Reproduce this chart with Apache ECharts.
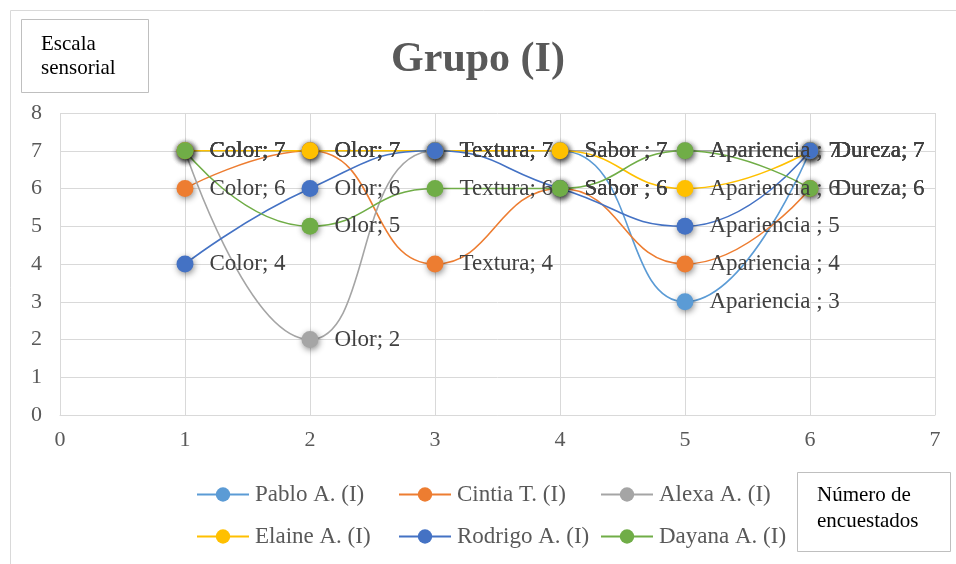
<!DOCTYPE html>
<html>
<head>
<meta charset="utf-8">
<script src="https://cdn.jsdelivr.net/npm/echarts@6/dist/echarts.min.js"></script>
<style>
  html, body { margin: 0; padding: 0; background: #fff; }
  #chart { width: 956px; height: 564px; }
</style>
</head>
<body>
<div id="chart"></div>
<script>
/* global echarts */
// categories (x = 1..6) and the score each respondent gave
const categories = ['Color', 'Olor', 'Textura', 'Sabor ', 'Apariencia ', 'Dureza'];
const xPositions = [1, 2, 3, 4, 5, 6];
const pablo   = [7, 7, 7, 7, 3, 7];
const cintia  = [6, 7, 4, 6, 4, 6];
const alexa   = [7, 2, 7, 7, 7, 7];
const elaine  = [7, 7, 7, 7, 6, 7];
const rodrigo = [4, 6, 7, 6, 5, 7];
const dayana  = [7, 5, 6, 6, 7, 6];
const seriesNames = ['Pablo A. (I)', 'Cintia T. (I)', 'Alexa A. (I)', 'Elaine A. (I)', 'Rodrigo A. (I)', 'Dayana A. (I)'];
const yTicks = [0, 1, 2, 3, 4, 5, 6, 7, 8];

const FONT = '"Liberation Serif", "Times New Roman", serif';
const colors = ['#5B9BD5', '#ED7D31', '#A5A5A5', '#FFC000', '#4472C4', '#70AD47'];
const allValues = [pablo, cintia, alexa, elaine, rodrigo, dayana];

const chart = echarts.init(document.getElementById('chart'));

function make_series(name, values, color) {
    return {
        name: name,
        type: 'line',
        smooth: 0.5,
        data: values.map((v, i) => [xPositions[i], v]),
        symbol: 'circle',
        symbolSize: 17,
        itemStyle: {
            color: color,
            shadowBlur: 6,
            shadowColor: 'rgba(0,0,0,0.45)',
            shadowOffsetX: 1,
            shadowOffsetY: 2
        },
        lineStyle: { color: color, width: 1.6 },
        label: {
            show: true,
            position: 'right',
            distance: 16,
            fontFamily: FONT,
            fontSize: 23,
            color: '#404040',
            formatter: p => `${categories[p.dataIndex]}; ${p.value[1]}`
        },
        emphasis: { disabled: true }
    };
}

// one legend per item so the columns line up like the original
const legendCols = [196, 398, 600];
const legendRows = [483, 525];
const legends = seriesNames.map((name, i) => ({
    data: [{ name: name, itemStyle: { shadowBlur: 0, shadowOffsetX: 0, shadowOffsetY: 0 } }],
    left: legendCols[i % 3],
    top: legendRows[Math.floor(i / 3)],
    padding: 0,
    itemWidth: 52,
    itemHeight: 18,
    itemGap: 0,
    selectedMode: false,
    textStyle: { fontFamily: FONT, fontSize: 23, color: '#595959', padding: [0, 0, 0, 1] }
}));

const option = {
    animation: false,
    color: colors,
    title: {
        text: 'Grupo (I)',
        left: 'center',
        top: 34,
        textStyle: { fontFamily: FONT, fontSize: 42, fontWeight: 'bold', color: '#595959' }
    },
    legend: legends,
    grid: { left: 60, right: 21, top: 113, bottom: 149 },
    xAxis: {
        type: 'value',
        min: 0,
        max: 7,
        interval: 1,
        axisLine: { show: true, lineStyle: { color: '#D9D9D9' } },
        axisTick: { show: false },
        splitLine: { show: true, lineStyle: { color: '#D9D9D9', width: 1 } },
        axisLabel: { fontFamily: FONT, fontSize: 22, color: '#595959', margin: 14 }
    },
    yAxis: {
        type: 'value',
        min: yTicks[0],
        max: yTicks[yTicks.length - 1],
        interval: 1,
        axisLine: { show: false },
        axisTick: { show: false },
        splitLine: { show: true, lineStyle: { color: '#D9D9D9', width: 1 } },
        axisLabel: { fontFamily: FONT, fontSize: 22, color: '#595959', margin: 18 }
    },
    series: allValues.map((vals, i) => make_series(seriesNames[i], vals, colors[i])),
    graphic: [
        {
            type: 'rect', z: -10,
            shape: { x: 10.5, y: 10.5, width: 960, height: 560 },
            style: { fill: 'none', stroke: '#D9D9D9', lineWidth: 1 }
        },
        {
            type: 'rect',
            shape: { x: 21.5, y: 19.5, width: 127, height: 73 },
            style: { fill: '#fff', stroke: '#BFBFBF', lineWidth: 1 }
        },
        {
            type: 'text', left: 41, top: 32,
            style: { text: 'Escala\nsensorial', fontFamily: FONT, fontSize: 21, lineHeight: 24, fill: '#000' }
        },
        {
            type: 'rect',
            shape: { x: 797.5, y: 472.5, width: 153, height: 79 },
            style: { fill: '#fff', stroke: '#BFBFBF', lineWidth: 1 }
        },
        {
            type: 'text', left: 817, top: 482,
            style: { text: 'Número de\nencuestados', fontFamily: FONT, fontSize: 21, lineHeight: 26, fill: '#000' }
        }
    ]
};

chart.setOption(option);
window.addEventListener('resize', () => chart.resize());
</script>
</body>
</html>
